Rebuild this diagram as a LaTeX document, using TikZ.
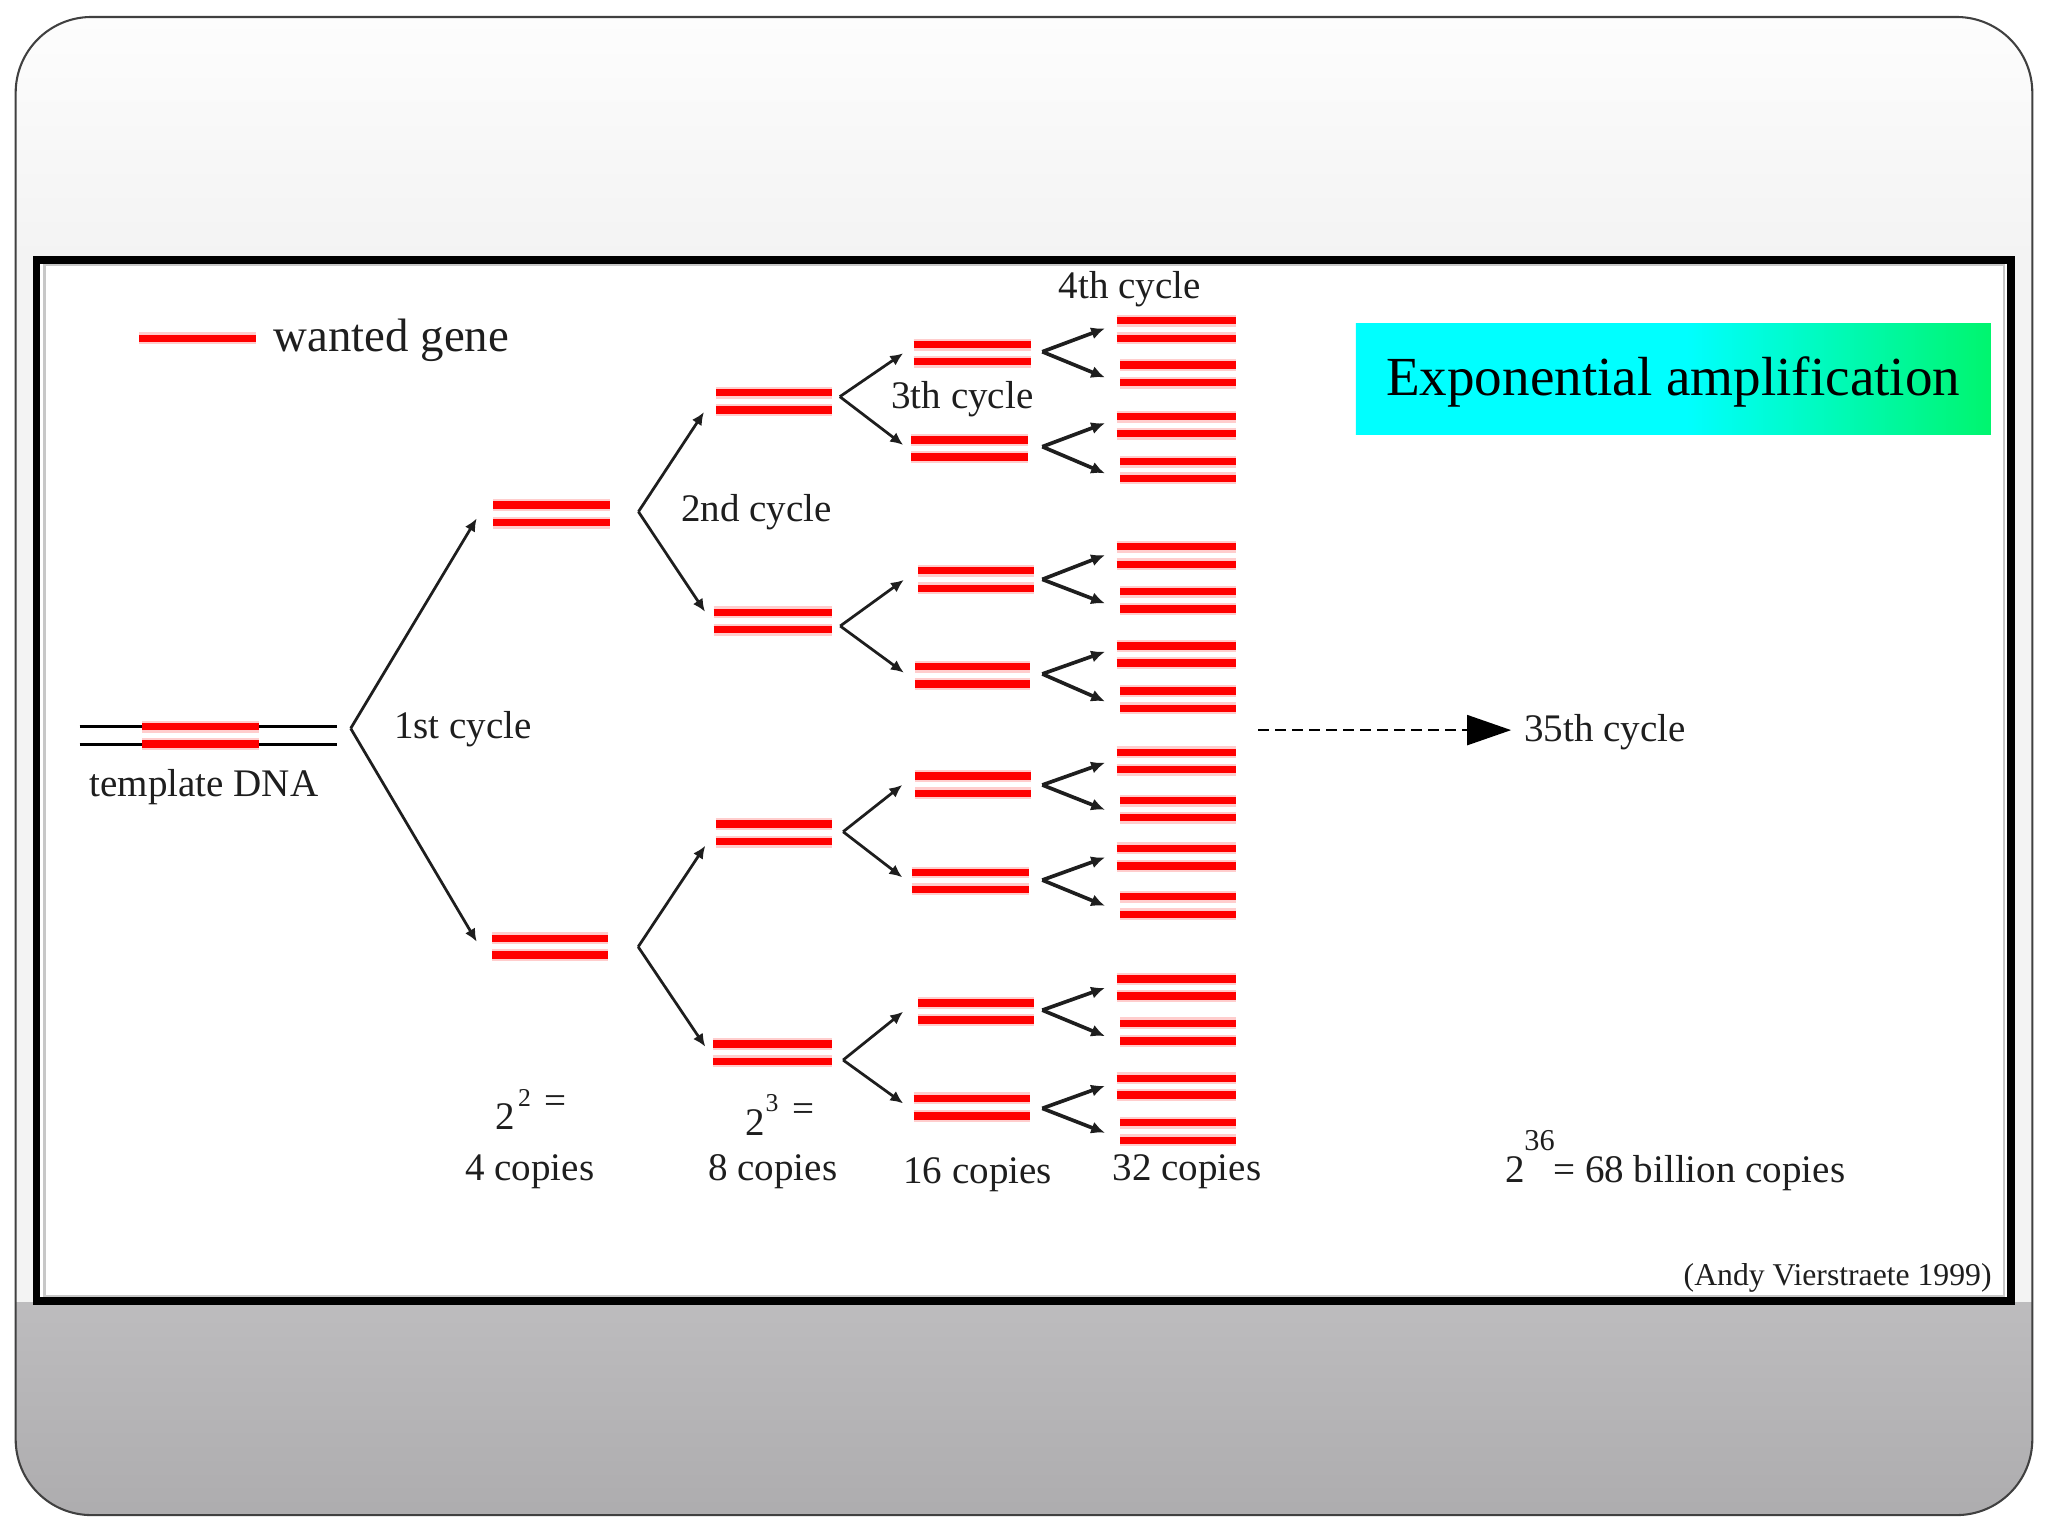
\documentclass[tikz,border=0pt]{standalone}
\usepackage{fontspec}
\setmainfont{Liberation Serif}
\usetikzlibrary{arrows.meta}
\definecolor{genered}{RGB}{255,0,0}
\definecolor{halopink}{RGB}{255,205,205}
\definecolor{tcyan}{RGB}{0,255,255}
\definecolor{tgreen}{RGB}{0,245,110}
\definecolor{topwhite}{RGB}{253,253,253}
\definecolor{topgray}{RGB}{243,243,243}
\definecolor{footA}{RGB}{189,188,190}
\definecolor{footB}{RGB}{172,171,173}
\definecolor{inkgray}{RGB}{30,30,30}
\pgfdeclarehorizontalshading{titleshade}{100bp}{color(0bp)=(tcyan); color(25bp)=(tcyan); color(51bp)=(tcyan); color(75bp)=(tgreen); color(100bp)=(tgreen)}
\newcommand\dnapair[5]{%
  \draw[halo] (#2,#4) -- (#3,#4);
  \draw[halo] (#2,#5) -- (#3,#5);
  \draw[gene] (#2,#4) -- (#3,#4);
  \draw[gene] (#2,#5) -- (#3,#5);
  \coordinate (#1) at ({(#2+#3)/2},{(#4+#5)/2});}
\newcommand\fork[7]{%
  \coordinate (#1) at (#2,#3);
  \coordinate (#1u) at (#4,#5);
  \coordinate (#1d) at (#6,#7);}
\begin{document}
\begin{tikzpicture}[x=0.01cm,y=-0.01cm,
  gene/.style={line width=1.6pt,genered},
  halo/.style={line width=2.6pt,halopink},
  strand/.style={line width=0.65pt,black},
  arr/.style={line width=0.6pt,inkgray,-{Latex[length=2.8pt,width=2.5pt]}},
  arrb/.style={line width=0.8pt,inkgray,-{Latex[length=3pt,width=2.7pt]}},
  txt/.style={font=\fontsize{8.5}{10}\selectfont,inner sep=0pt,anchor=base west,text=inkgray},
  sup/.style={font=\fontsize{5.6}{7}\selectfont,inner sep=0pt,anchor=base west,text=inkgray},
  supb/.style={font=\fontsize{6.6}{8}\selectfont,inner sep=0pt,anchor=base west,text=inkgray}]
\useasboundingbox (0,0) rectangle (1568,1176);
% slide background
\fill[white] (0,0) rectangle (1568,1176);
\begin{scope}
  \clip[rounded corners=0.58cm] (12,13) rectangle (1556,1160);
  \fill[topgray] (0,0) rectangle (1568,1176);
  \shade[top color=topwhite,bottom color=topgray] (0,13) rectangle (1568,197);
  \shade[top color=footA,bottom color=footB] (0,997) rectangle (1568,1176);
\end{scope}
\draw[line width=0.45pt,black!75,rounded corners=0.58cm] (12,13) rectangle (1556,1160);
% inner framed panel
\fill[white] (28,199) rectangle (1539.8,996);
\draw[line width=0.5pt,black!22] (34,202.5) rectangle (1534.5,992);
\draw[line width=1.7pt,black] (28,199) rectangle (1539.8,996);
% title box
\shade[shading=titleshade] (1038,248) rectangle (1524.3,332.3);
\node[font=\fontsize{12}{14}\selectfont,inner sep=0pt,anchor=base,text=black] (title) at (1281,302.5) {Exponential amplification};
% legend
\draw[halo] (106.7,259) -- (196,259);
\draw[gene] (106.7,259) -- (196,259);
\coordinate (legend) at (151,259);
\node[txt,font=\fontsize{10.2}{12}\selectfont] (lg) at (208.8,269.3) {wanted gene};
% template DNA
\draw[strand] (61,556.4) -- (258,556.4);
\draw[strand] (61,569.7) -- (258,569.7);
\dnapair{tpl}{109}{198}{556.4}{569.7}
% level 1
\dnapair{pa}{377.6}{467}{386.7}{400.2}
\dnapair{pb}{376.5}{465.8}{718.5}{731.3}
% level 2
\dnapair{paa}{548}{636.7}{300.7}{314}
\dnapair{pab}{546.4}{636.7}{468.9}{482}
\dnapair{pba}{548}{636.7}{631}{644.5}
\dnapair{pbb}{545.8}{636.7}{799.4}{812.6}
% level 3
\dnapair{q1}{699.5}{789.7}{264}{277}
\dnapair{q2}{697.6}{787}{337}{350}
\dnapair{q3}{702.8}{791.4}{437}{450.5}
\dnapair{q4}{700.5}{788.7}{510.5}{523.7}
\dnapair{q5}{700.5}{789.7}{594.2}{607.4}
\dnapair{q6}{698}{788}{668}{681}
\dnapair{q7}{702.8}{791.4}{767.8}{781}
\dnapair{q8}{699.5}{788.8}{841}{854.5}
% level 4
\dnapair{r1}{855}{946}{245.5}{259}
\dnapair{r2}{857.5}{946}{279.5}{293}
\dnapair{r3}{855}{946}{319}{332}
\dnapair{r4}{857.5}{946}{353.5}{366.2}
\dnapair{r5}{855}{946}{418.6}{432}
\dnapair{r6}{857.5}{946}{453}{466.3}
\dnapair{r7}{855}{946}{494.5}{507.5}
\dnapair{r8}{857.5}{946}{529}{542.4}
\dnapair{r9}{855}{946}{576}{589.3}
\dnapair{r10}{857.5}{946}{613}{626}
\dnapair{r11}{855}{946}{649.5}{663}
\dnapair{r12}{857.5}{946}{686.6}{700}
\dnapair{r13}{855}{946}{749.6}{762.6}
\dnapair{r14}{857.5}{946}{783.5}{797}
\dnapair{r15}{855}{946}{825.6}{838.4}
\dnapair{r16}{857.5}{946}{859.6}{873}
% forks
\fork{f1}{268.5}{557.7}{365}{396.9}{365}{721}
\fork{f2a}{488.8}{391.8}{539}{315.5}{539.8}{468.4}
\fork{f2b}{488.6}{724.9}{540}{647.5}{540}{801.4}
\fork{f3a}{643}{303.7}{691.5}{270.5}{691.5}{340.7}
\fork{f3b}{643.3}{479.3}{692}{444}{692}{515}
\fork{f3c}{645.5}{636.8}{690.8}{601}{690.8}{671.7}
\fork{f3d}{645.5}{811.6}{691.5}{774.6}{691.5}{844.8}
\fork{g1}{798}{269.3}{846}{251.4}{846}{289}
\fork{g2}{798}{342}{846}{324}{846}{362.4}
\fork{g3}{798}{443.6}{846}{425}{846}{462}
\fork{g4}{798}{516}{846}{499}{846}{537}
\fork{g5}{798}{601}{846}{584}{846}{620}
\fork{g6}{798}{673.8}{846}{656.5}{846}{693.5}
\fork{g7}{798}{773.4}{846}{756.3}{846}{793.3}
\fork{g8}{798}{848.6}{846}{831.3}{846}{867.3}
\foreach \f in {f1,f2a,f2b,f3a,f3b,f3c,f3d}{
  \draw[arr] (\f) -- (\f u);
  \draw[arr] (\f) -- (\f d);}
\foreach \f in {g1,g2,g3,g4,g5,g6,g7,g8}{
  \draw[arrb] (\f) -- (\f u);
  \draw[arrb] (\f) -- (\f d);}
% dashed arrow to 35th cycle
\coordinate (dstart) at (963.5,559);
\coordinate (dend) at (1157,559);
\draw[line width=0.6pt,black,dash pattern=on 2.3pt off 1.4pt,-{Triangle[length=9.6pt,width=6.5pt]}] (dstart) -- (dend);
% labels
\node[txt] (c4) at (810,228.5) {4th cycle};
\node[txt] (c3) at (681.8,312.7) {3th cycle};
\node[txt] (c2) at (520.7,399.4) {2nd cycle};
\node[txt] (c1) at (301,565.3) {1st cycle};
\node[txt] (tpltxt) at (67.8,609.5) {template DNA};
\node[txt] (c35) at (1166.4,568) {35th cycle};
\node[txt] (n4) at (355.5,903.5) {4 copies};
\node[txt] (n8) at (541.5,903.5) {8 copies};
\node[txt] (n16) at (691,906) {16 copies};
\node[txt] (n32) at (851.3,903.5) {32 copies};
\node[txt] (e2b) at (378.8,864.7) {2};
\node[sup] (e2s) at (396,847) {2};
\node[txt,anchor=center] (e2q) at (425.3,846) {=};
\node[txt] (e3b) at (570,869) {2};
\node[sup] (e3s) at (585.5,851) {3};
\node[txt,anchor=center] (e3q) at (615,851.5) {=};
\node[txt] (e36b) at (1152.2,905.6) {2};
\node[supb] (e36s) at (1166.4,880.5) {36};
\node[txt] (e36t) at (1188.5,905.6) {= 68 billion copies};
\node[txt,font=\fontsize{6.9}{8}\selectfont] (credit) at (1288.4,984) {(Andy Vierstraete 1999)};
\end{tikzpicture}
\end{document}
